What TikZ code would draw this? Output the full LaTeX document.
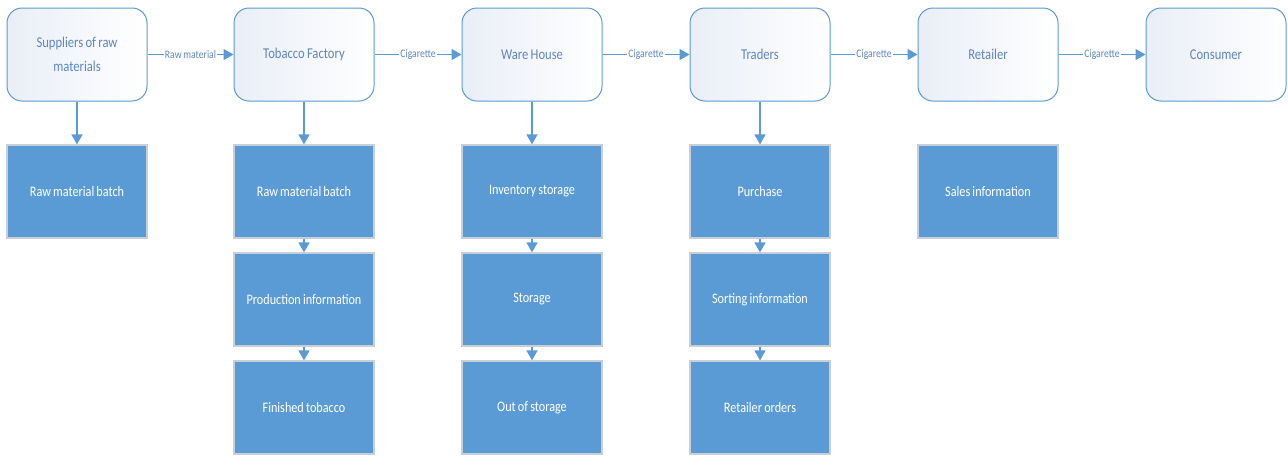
\documentclass[tikz,border=0pt]{standalone}
\usepackage{fontspec}
\setmainfont{Carlito}[FakeStretch=0.84,WordSpace=0.8]
\usetikzlibrary{arrows.meta}
\definecolor{lineblue}{HTML}{5B9BD5}
\definecolor{textblue}{HTML}{5E86C0}
\definecolor{boxfill}{HTML}{5B9BD5}
\definecolor{boxedge}{HTML}{C9CFD6}
\definecolor{topfill}{HTML}{E9EEF7}
\tikzset{
  topbox/.style={draw=lineblue, line width=1pt, rounded corners=15pt,
    minimum width=140pt, minimum height=93pt, inner sep=4pt,
    left color=topfill, right color=white,
    text=textblue, align=center,
    font=\fontsize{15}{24}\selectfont},
  lowbox/.style={draw=boxedge, line width=1.2pt, fill=boxfill,
    minimum width=140pt, minimum height=93pt, inner sep=0pt,
    text=white, align=center, font=\fontsize{14.5}{17}\selectfont},
  flow/.style={draw=lineblue, line width=1.5pt,
    -{Triangle[length=10pt,width=11pt]}},
  elabel/.style={fill=white, inner sep=1pt, text=textblue,
    font=\fontsize{11.5}{13}\selectfont}
}
\begin{document}
\begin{tikzpicture}[x=1pt,y=-1pt]
\useasboundingbox (0,0) rectangle (1288,456);
% top row
\node[topbox] (s) at (77,54.5) {Suppliers of raw\\materials};
\node[topbox] (f) at (304,54.5) {Tobacco Factory};
\node[topbox] (w) at (532,54.5) {Ware House};
\node[topbox] (t) at (760,54.5) {Traders};
\node[topbox] (r) at (988,54.5) {Retailer};
\node[topbox] (c) at (1216,54.5) {Consumer};
% lower boxes
\node[lowbox] (s1) at (77,191.5) {Raw material batch};
\node[lowbox] (f1) at (304,191.5) {Raw material batch};
\node[lowbox] (f2) at (304,299.5) {Production information};
\node[lowbox] (f3) at (304,407.5) {Finished tobacco};
\node[lowbox] (w1) at (532,191.5) {Inventory storage};
\node[lowbox] (w2) at (532,299.5) {Storage};
\node[lowbox] (w3) at (532,407.5) {Out of storage};
\node[lowbox] (t1) at (760,191.5) {Purchase};
\node[lowbox] (t2) at (760,299.5) {Sorting information};
\node[lowbox] (t3) at (760,407.5) {Retailer orders};
\node[lowbox] (r1) at (988,191.5) {Sales information};
% horizontal flows
\draw[flow] (s) -- node[elabel] {Raw material} (f);
\draw[flow] (f) -- node[elabel] {Cigarette} (w);
\draw[flow] (w) -- node[elabel] {Cigarette} (t);
\draw[flow] (t) -- node[elabel] {Cigarette} (r);
\draw[flow] (r) -- node[elabel] {Cigarette} (c);
% vertical flows
\draw[flow] (s) -- (s1);
\draw[flow] (f) -- (f1);
\draw[flow] (w) -- (w1);
\draw[flow] (t) -- (t1);
\draw[flow] (f1) -- (f2);
\draw[flow] (f2) -- (f3);
\draw[flow] (w1) -- (w2);
\draw[flow] (w2) -- (w3);
\draw[flow] (t1) -- (t2);
\draw[flow] (t2) -- (t3);
\end{tikzpicture}
\end{document}
